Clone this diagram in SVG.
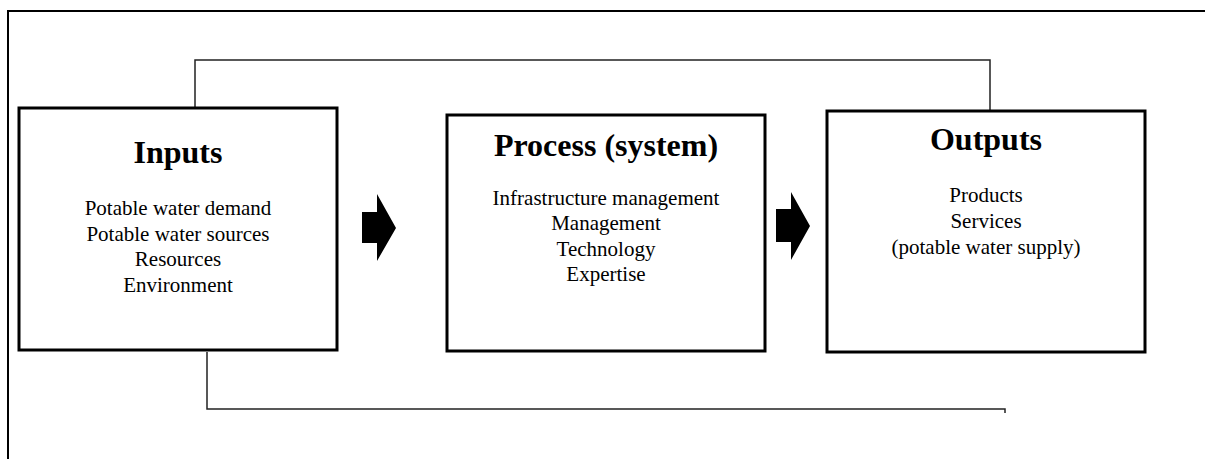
<svg xmlns="http://www.w3.org/2000/svg" width="1205" height="459" viewBox="0 0 1205 459">
  <style>
    .box { fill: #ffffff; stroke: #000000; stroke-width: 3; }
    .frame { fill: none; stroke: #000000; stroke-width: 2; }
    .link { fill: none; stroke: #222222; stroke-width: 1.5; }
    .arrow { fill: #000000; stroke: none; }
    .title { font-family: "Liberation Serif", "Times New Roman", serif; font-weight: bold; font-size: 32px; text-anchor: middle; fill: #000000; }
    .item { font-family: "Liberation Serif", "Times New Roman", serif; font-size: 21px; text-anchor: middle; fill: #000000; }
  </style>

  <!-- outer frame (top and left edges) -->
  <path class="frame" d="M8,459 V11 H1205"/>

  <!-- connectors -->
  <g id="connectors">
    <path class="link" d="M195,108 V60 H990 V111"/>
    <path class="link" d="M207,352 V409 H1005 V413"/>
    <path class="arrow" d="M362,212 H377 V194 L396,228 L377,261 V243 H362 Z"/>
    <path class="arrow" d="M776,209 H791 V192 L810,226 L791,260 V242 H776 Z"/>
  </g>

  <g id="inputs">
    <rect class="box" x="19" y="108" width="318" height="242"/>
    <text class="title" x="178" y="163">Inputs</text>
    <text class="item" x="178" y="215">Potable water demand</text>
    <text class="item" x="178" y="241">Potable water sources</text>
    <text class="item" x="178" y="266">Resources</text>
    <text class="item" x="178" y="292">Environment</text>
  </g>

  <g id="process">
    <rect class="box" x="447" y="115" width="318" height="236"/>
    <text class="title" x="606" y="156">Process (system)</text>
    <text class="item" x="606" y="205">Infrastructure management</text>
    <text class="item" x="606" y="230">Management</text>
    <text class="item" x="606" y="256">Technology</text>
    <text class="item" x="606" y="281">Expertise</text>
  </g>

  <g id="outputs">
    <rect class="box" x="827" y="111" width="318" height="241"/>
    <text class="title" x="986" y="150">Outputs</text>
    <text class="item" x="986" y="202">Products</text>
    <text class="item" x="986" y="228">Services</text>
    <text class="item" x="986" y="254">(potable water supply)</text>
  </g>
</svg>
